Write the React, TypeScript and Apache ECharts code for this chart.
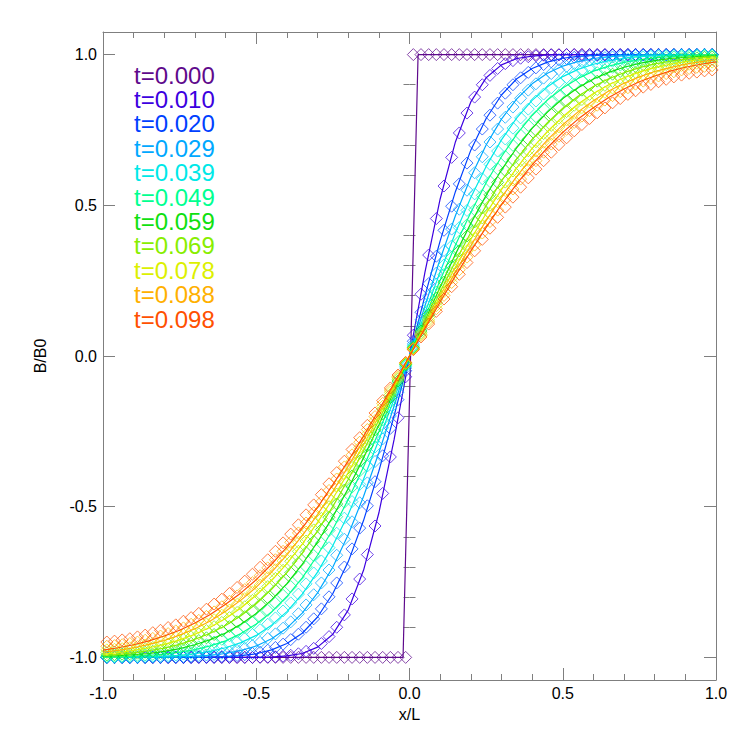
import React, { useEffect, useRef } from "react";
import * as echarts from "echarts";

const timeLabels = ["t=0.000", "t=0.010", "t=0.020", "t=0.029", "t=0.039", "t=0.049", "t=0.059", "t=0.069", "t=0.078", "t=0.088", "t=0.098"];
const colors = ["#5f0a8c", "#3c00e0", "#0040ff", "#00a8ff", "#00e8e8", "#00ff90", "#10e010", "#88ee00", "#dcf000", "#ffb000", "#ff5000"];

const xMajor = [-1, -0.5, 0, 0.5, 1];
const yMajor = [-1, -0.5, 0, 0.5, 1];
const yMinor = [-0.9, -0.8, -0.7, -0.6, -0.4, -0.3, -0.2, -0.1, 0.1, 0.2, 0.3, 0.4, 0.6, 0.7, 0.8, 0.9];

const markerX = [-0.9875,-0.9625,-0.9375,-0.9125,-0.8875,-0.8625,-0.8375,-0.8125,-0.7875,-0.7625,-0.7375,-0.7125,-0.6875,-0.6625,-0.6375,-0.6125,-0.5875,-0.5625,-0.5375,-0.5125,-0.4875,-0.4625,-0.4375,-0.4125,-0.3875,-0.3625,-0.3375,-0.3125,-0.2875,-0.2625,-0.2375,-0.2125,-0.1875,-0.1625,-0.1375,-0.1125,-0.0875,-0.0625,-0.0375,-0.0125,
0.0125,0.0375,0.0625,0.0875,0.1125,0.1375,0.1625,0.1875,0.2125,0.2375,0.2625,0.2875,0.3125,0.3375,0.3625,0.3875,0.4125,0.4375,0.4625,0.4875,0.5125,0.5375,0.5625,0.5875,0.6125,0.6375,0.6625,0.6875,0.7125,0.7375,0.7625,0.7875,0.8125,0.8375,0.8625,0.8875,0.9125,0.9375,0.9625,0.9875];

const lineX = [-1,-0.95,-0.9,-0.85,-0.8,-0.75,-0.7,-0.65,-0.6,-0.55,-0.5,-0.45,-0.4,-0.35,-0.3,-0.25,-0.2,-0.15,-0.1,-0.05,0,0.05,0.1,0.15,0.2,0.25,0.3,0.35,0.4,0.45,0.5,0.55,0.6,0.65,0.7,0.75,0.8,0.85,0.9,0.95,1];

const stepLineX = [-1, -0.021, 0.028, 1];
const stepLineY = [-1, -1, 1, 1];

// marker values (numerical solution)
const m000 = [-1,-1,-1,-1,-1,-1,-1,-1,-1,-1,-1,-1,-1,-1,-1,-1,-1,-1,-1,-1,-1,-1,-1,-1,-1,-1,-1,-1,-1,-1,-1,-1,-1,-1,-1,-1,-1,-1,-1,-1,
1,1,1,1,1,1,1,1,1,1,1,1,1,1,1,1,1,1,1,1,1,1,1,1,1,1,1,1,1,1,1,1,1,1,1,1,1,1,1,1];
const m010 = [-1,-1,-1,-1,-1,-1,-1,-1,-1,-1,-1,-1,-1,-1,-1,-1,-1,-1,-1,-1,-0.999,-0.999,-0.998,-0.996,-0.993,-0.988,-0.980,-0.970,-0.954,-0.931,-0.900,-0.859,-0.806,-0.740,-0.659,-0.564,-0.456,-0.335,-0.205,-0.069,
0.069,0.205,0.335,0.456,0.564,0.659,0.740,0.806,0.859,0.900,0.931,0.954,0.970,0.980,0.988,0.993,0.996,0.998,0.999,0.999,1,1,1,1,1,1,1,1,1,1,1,1,1,1,1,1,1,1,1,1];
const m020 = [-1,-1,-1,-1,-1,-1,-1,-1,-1,-1,-1,-1,-0.999,-0.999,-0.998,-0.997,-0.996,-0.994,-0.991,-0.987,-0.983,-0.976,-0.967,-0.956,-0.941,-0.923,-0.900,-0.872,-0.839,-0.799,-0.753,-0.700,-0.640,-0.571,-0.497,-0.417,-0.331,-0.240,-0.145,-0.049,
0.049,0.145,0.240,0.331,0.417,0.497,0.571,0.640,0.700,0.753,0.799,0.839,0.872,0.900,0.923,0.941,0.956,0.967,0.976,0.983,0.987,0.991,0.994,0.996,0.997,0.998,0.999,0.999,1,1,1,1,1,1,1,1,1,1,1,1];
const m029 = [-1,-1,-1,-1,-1,-1,-0.999,-0.999,-0.998,-0.998,-0.997,-0.996,-0.994,-0.992,-0.990,-0.986,-0.982,-0.977,-0.970,-0.961,-0.950,-0.937,-0.922,-0.903,-0.882,-0.855,-0.826,-0.792,-0.753,-0.710,-0.661,-0.608,-0.550,-0.487,-0.421,-0.350,-0.275,-0.199,-0.120,-0.040,
0.040,0.120,0.199,0.275,0.350,0.421,0.487,0.550,0.608,0.661,0.710,0.753,0.792,0.826,0.855,0.882,0.903,0.922,0.937,0.950,0.961,0.970,0.977,0.982,0.986,0.990,0.992,0.994,0.996,0.997,0.998,0.998,0.999,0.999,1,1,1,1,1,1];
const m039 = [-0.999,-0.999,-0.999,-0.998,-0.998,-0.997,-0.996,-0.995,-0.994,-0.992,-0.989,-0.986,-0.982,-0.978,-0.972,-0.966,-0.958,-0.948,-0.937,-0.924,-0.908,-0.890,-0.869,-0.846,-0.819,-0.790,-0.756,-0.720,-0.680,-0.636,-0.588,-0.538,-0.483,-0.426,-0.365,-0.302,-0.238,-0.171,-0.104,-0.034,
0.034,0.104,0.171,0.238,0.302,0.365,0.426,0.483,0.538,0.588,0.636,0.680,0.720,0.756,0.790,0.819,0.846,0.869,0.890,0.908,0.924,0.937,0.948,0.958,0.966,0.972,0.978,0.982,0.986,0.989,0.992,0.994,0.995,0.996,0.997,0.998,0.998,0.999,0.999,0.999];
const m049 = [-0.997,-0.996,-0.995,-0.994,-0.993,-0.992,-0.990,-0.987,-0.984,-0.981,-0.976,-0.971,-0.965,-0.958,-0.949,-0.940,-0.928,-0.915,-0.901,-0.884,-0.865,-0.844,-0.820,-0.794,-0.765,-0.733,-0.699,-0.662,-0.621,-0.579,-0.533,-0.485,-0.435,-0.381,-0.327,-0.270,-0.212,-0.153,-0.091,-0.030,
0.030,0.091,0.153,0.212,0.270,0.327,0.381,0.435,0.485,0.533,0.579,0.621,0.662,0.699,0.733,0.765,0.794,0.820,0.844,0.865,0.884,0.901,0.915,0.928,0.940,0.949,0.958,0.965,0.971,0.976,0.981,0.984,0.987,0.990,0.992,0.993,0.994,0.995,0.996,0.997];
const m059 = [-0.992,-0.991,-0.989,-0.988,-0.986,-0.983,-0.980,-0.976,-0.972,-0.966,-0.960,-0.953,-0.944,-0.935,-0.924,-0.912,-0.898,-0.882,-0.865,-0.846,-0.825,-0.802,-0.777,-0.749,-0.719,-0.687,-0.652,-0.615,-0.576,-0.535,-0.491,-0.445,-0.398,-0.349,-0.298,-0.245,-0.192,-0.138,-0.083,-0.028,
0.028,0.083,0.138,0.192,0.245,0.298,0.349,0.398,0.445,0.491,0.535,0.576,0.615,0.652,0.687,0.719,0.749,0.777,0.802,0.825,0.846,0.865,0.882,0.898,0.912,0.924,0.935,0.944,0.953,0.960,0.966,0.972,0.976,0.980,0.983,0.986,0.988,0.989,0.991,0.992];
const m069 = [-0.984,-0.982,-0.981,-0.978,-0.975,-0.971,-0.967,-0.962,-0.956,-0.949,-0.941,-0.932,-0.922,-0.911,-0.898,-0.884,-0.868,-0.851,-0.832,-0.811,-0.789,-0.765,-0.738,-0.711,-0.681,-0.648,-0.614,-0.577,-0.539,-0.500,-0.458,-0.415,-0.370,-0.323,-0.276,-0.227,-0.178,-0.128,-0.077,-0.026,
0.026,0.077,0.128,0.178,0.227,0.276,0.323,0.370,0.415,0.458,0.500,0.539,0.577,0.614,0.648,0.681,0.711,0.738,0.765,0.789,0.811,0.832,0.851,0.868,0.884,0.898,0.911,0.922,0.932,0.941,0.949,0.956,0.962,0.967,0.971,0.975,0.978,0.981,0.982,0.984];
const m078 = [-0.975,-0.973,-0.971,-0.968,-0.964,-0.959,-0.954,-0.948,-0.941,-0.933,-0.924,-0.913,-0.901,-0.889,-0.875,-0.860,-0.843,-0.824,-0.805,-0.783,-0.760,-0.735,-0.709,-0.680,-0.649,-0.618,-0.584,-0.549,-0.512,-0.473,-0.433,-0.391,-0.349,-0.304,-0.259,-0.214,-0.167,-0.120,-0.072,-0.024,
0.024,0.072,0.120,0.167,0.214,0.259,0.304,0.349,0.391,0.433,0.473,0.512,0.549,0.584,0.618,0.649,0.680,0.709,0.735,0.760,0.783,0.805,0.824,0.843,0.860,0.875,0.889,0.901,0.913,0.924,0.933,0.941,0.948,0.954,0.959,0.964,0.968,0.971,0.973,0.975];
const m088 = [-0.963,-0.961,-0.958,-0.954,-0.949,-0.943,-0.937,-0.929,-0.921,-0.912,-0.902,-0.890,-0.877,-0.864,-0.849,-0.832,-0.814,-0.796,-0.775,-0.752,-0.729,-0.703,-0.676,-0.648,-0.618,-0.587,-0.554,-0.520,-0.484,-0.446,-0.408,-0.368,-0.328,-0.286,-0.244,-0.201,-0.157,-0.113,-0.068,-0.023,
0.023,0.068,0.113,0.157,0.201,0.244,0.286,0.328,0.368,0.408,0.446,0.484,0.520,0.554,0.587,0.618,0.648,0.676,0.703,0.729,0.752,0.775,0.796,0.814,0.832,0.849,0.864,0.877,0.890,0.902,0.912,0.921,0.929,0.937,0.943,0.949,0.954,0.958,0.961,0.963];
const m098 = [-0.949,-0.946,-0.942,-0.938,-0.932,-0.926,-0.918,-0.910,-0.901,-0.892,-0.880,-0.868,-0.854,-0.840,-0.823,-0.807,-0.788,-0.768,-0.747,-0.724,-0.701,-0.676,-0.648,-0.620,-0.591,-0.560,-0.527,-0.494,-0.460,-0.424,-0.387,-0.349,-0.310,-0.271,-0.230,-0.189,-0.148,-0.106,-0.063,-0.021,
0.021,0.063,0.106,0.148,0.189,0.230,0.271,0.310,0.349,0.387,0.424,0.460,0.494,0.527,0.560,0.591,0.620,0.648,0.676,0.701,0.724,0.747,0.768,0.788,0.807,0.823,0.840,0.854,0.868,0.880,0.892,0.901,0.910,0.918,0.926,0.932,0.938,0.942,0.946,0.949];

// line values (analytic solution)
const l010 = [-1,-1,-1,-1,-1,-1,-1,-1,-1,-1,-1,-0.999,-0.995,-0.987,-0.966,-0.923,-0.843,-0.711,-0.521,-0.276,0,0.276,0.521,0.711,0.843,0.923,0.966,0.987,0.995,0.999,1,1,1,1,1,1,1,1,1,1,1];
const l020 = [-1,-1,-1,-1,-1,-1,-1,-0.999,-0.997,-0.994,-0.988,-0.975,-0.954,-0.920,-0.866,-0.788,-0.683,-0.546,-0.382,-0.198,0,0.198,0.382,0.546,0.683,0.788,0.866,0.920,0.954,0.975,0.988,0.994,0.997,0.999,1,1,1,1,1,1,1];
const l029 = [-1,-1,-1,-1,-0.999,-0.998,-0.996,-0.993,-0.987,-0.977,-0.962,-0.938,-0.903,-0.853,-0.786,-0.700,-0.593,-0.466,-0.321,-0.165,0,0.165,0.321,0.466,0.593,0.700,0.786,0.853,0.903,0.938,0.962,0.977,0.987,0.993,0.996,0.998,0.999,1,1,1,1];
const l039 = [-1,-0.999,-0.999,-0.998,-0.996,-0.993,-0.988,-0.980,-0.968,-0.951,-0.927,-0.893,-0.848,-0.790,-0.717,-0.629,-0.526,-0.409,-0.279,-0.142,0,0.142,0.279,0.409,0.526,0.629,0.717,0.790,0.848,0.893,0.927,0.951,0.968,0.980,0.988,0.993,0.996,0.998,0.999,0.999,1];
const l049 = [-0.999,-0.998,-0.996,-0.993,-0.989,-0.983,-0.974,-0.962,-0.945,-0.921,-0.889,-0.849,-0.798,-0.736,-0.661,-0.575,-0.476,-0.368,-0.251,-0.127,0,0.127,0.251,0.368,0.476,0.575,0.661,0.736,0.798,0.849,0.889,0.921,0.945,0.962,0.974,0.983,0.989,0.993,0.996,0.998,0.999];
const l059 = [-0.996,-0.994,-0.991,-0.987,-0.980,-0.971,-0.958,-0.941,-0.919,-0.890,-0.854,-0.809,-0.755,-0.691,-0.617,-0.533,-0.440,-0.338,-0.229,-0.116,0,0.116,0.229,0.338,0.440,0.533,0.617,0.691,0.755,0.809,0.854,0.890,0.919,0.941,0.958,0.971,0.980,0.987,0.991,0.994,0.996];
const l069 = [-0.993,-0.990,-0.985,-0.978,-0.969,-0.957,-0.940,-0.920,-0.894,-0.862,-0.822,-0.774,-0.719,-0.654,-0.580,-0.499,-0.410,-0.314,-0.212,-0.107,0,0.107,0.212,0.314,0.410,0.499,0.580,0.654,0.719,0.774,0.822,0.862,0.894,0.920,0.940,0.957,0.969,0.978,0.985,0.990,0.993];
const l078 = [-0.989,-0.984,-0.977,-0.968,-0.957,-0.942,-0.923,-0.900,-0.871,-0.836,-0.794,-0.745,-0.689,-0.624,-0.552,-0.473,-0.387,-0.295,-0.200,-0.100,0,0.100,0.200,0.295,0.387,0.473,0.552,0.624,0.689,0.745,0.794,0.836,0.871,0.900,0.923,0.942,0.957,0.968,0.977,0.984,0.989];
const l088 = [-0.983,-0.977,-0.968,-0.957,-0.944,-0.926,-0.905,-0.879,-0.847,-0.810,-0.767,-0.717,-0.660,-0.596,-0.526,-0.449,-0.366,-0.279,-0.189,-0.095,0,0.095,0.189,0.279,0.366,0.449,0.526,0.596,0.660,0.717,0.767,0.810,0.847,0.879,0.905,0.926,0.944,0.957,0.968,0.977,0.983];
const l098 = [-0.976,-0.968,-0.958,-0.945,-0.929,-0.910,-0.886,-0.858,-0.824,-0.786,-0.742,-0.691,-0.634,-0.571,-0.502,-0.427,-0.348,-0.266,-0.179,-0.090,0,0.090,0.179,0.266,0.348,0.427,0.502,0.571,0.634,0.691,0.742,0.786,0.824,0.858,0.886,0.910,0.929,0.945,0.958,0.968,0.976];

const markerSets = [m000, m010, m020, m029, m039, m049, m059, m069, m078, m088, m098];
const lineSets = [null, l010, l020, l029, l039, l049, l059, l069, l078, l088, l098];

const FONT = '"Liberation Sans", Arial, Helvetica, sans-serif';
const AXIS_GRAY = "#7f7f7f";

export default function App() {
  const ref = useRef<HTMLDivElement>(null);

  useEffect(() => {
    if (!ref.current) return;
    const chart = echarts.init(ref.current, null, { renderer: "svg" });

    const fmt = (v: number) => v.toFixed(1);
    const yMin = -1.075;
    const yMax = 1.075;

    const series: any[] = [];
    markerSets.forEach((vals, i) => {
      const c = colors[i];
      const lv = lineSets[i];
      const lineData = lv
        ? lineX.map((x, k) => [x, lv[k]])
        : stepLineX.map((x, k) => [x, stepLineY[k]]);
      series.push({
        type: "line",
        name: timeLabels[i],
        xAxisIndex: 0,
        yAxisIndex: 0,
        data: lineData,
        showSymbol: false,
        symbol: "none",
        lineStyle: { color: c, width: 1.2 },
        silent: true,
        z: 2 + i * 2,
      });
      series.push({
        type: "scatter",
        name: timeLabels[i] + " pts",
        xAxisIndex: 0,
        yAxisIndex: 0,
        data: markerX.map((x, k) => [x, vals[k]]),
        symbol: "diamond",
        symbolSize: [12, 12],
        itemStyle: { color: "rgba(0,0,0,0)", borderColor: c, borderWidth: 1, opacity: 0.75 },
        silent: true,
        z: 3 + i * 2,
      });
    });

    const gridPos = { left: 103, right: 31, top: 32, bottom: 67 };

    chart.setOption({
      animation: false,
      backgroundColor: "#ffffff",
      textStyle: { fontFamily: FONT },
      grid: [gridPos, gridPos],
      xAxis: [
        {
          type: "value", gridIndex: 0, position: "bottom", min: -1, max: 1, interval: 0.5,
          axisLine: { show: true, onZero: false, lineStyle: { color: AXIS_GRAY, width: 1 } },
          axisTick: { show: true, inside: true, length: 12, lineStyle: { color: AXIS_GRAY } },
          minorTick: { show: true, splitNumber: 5, length: 6, lineStyle: { color: AXIS_GRAY } },
          axisLabel: { color: "#000", fontSize: 16, fontFamily: FONT, margin: 5, formatter: fmt, customValues: xMajor },
          splitLine: { show: false },
          name: "x/L", nameLocation: "middle", nameGap: 26,
          nameTextStyle: { color: "#000", fontSize: 16, fontFamily: FONT },
        },
        {
          type: "value", gridIndex: 0, position: "top", min: -1, max: 1, interval: 0.5,
          axisLine: { show: true, onZero: false, lineStyle: { color: AXIS_GRAY, width: 1 } },
          axisTick: { show: true, inside: true, length: 12, lineStyle: { color: AXIS_GRAY } },
          minorTick: { show: true, splitNumber: 5, length: 6, lineStyle: { color: AXIS_GRAY } },
          axisLabel: { show: false },
          splitLine: { show: false },
        },
        { type: "value", gridIndex: 1, position: "bottom", min: -1, max: 1, show: false },
        { type: "value", gridIndex: 1, position: "top", min: -1, max: 1, show: false },
      ],
      yAxis: [
        {
          type: "value", gridIndex: 0, position: "left", min: yMin, max: yMax,
          axisLine: { show: true, onZero: false, lineStyle: { color: AXIS_GRAY, width: 1 } },
          axisTick: { show: true, inside: true, length: 12, customValues: yMajor, lineStyle: { color: AXIS_GRAY } },
          axisLabel: { color: "#000", fontSize: 16, fontFamily: FONT, margin: 6, formatter: fmt, customValues: yMajor },
          splitLine: { show: false },
          name: "B/B0", nameLocation: "middle", nameGap: 55, nameRotate: 90,
          nameTextStyle: { color: "#000", fontSize: 16, fontFamily: FONT },
        },
        {
          type: "value", gridIndex: 0, position: "right", min: yMin, max: yMax,
          axisLine: { show: true, onZero: false, lineStyle: { color: AXIS_GRAY, width: 1 } },
          axisTick: { show: true, inside: true, length: 12, customValues: yMajor, lineStyle: { color: AXIS_GRAY } },
          axisLabel: { show: false },
          splitLine: { show: false },
        },
        {
          type: "value", gridIndex: 1, position: "left", min: yMin, max: yMax,
          axisLine: { show: false },
          axisTick: { show: true, inside: true, length: 6, customValues: yMinor, lineStyle: { color: AXIS_GRAY } },
          axisLabel: { show: false },
          splitLine: { show: false },
        },
        {
          type: "value", gridIndex: 1, position: "right", min: yMin, max: yMax,
          axisLine: { show: false },
          axisTick: { show: true, inside: true, length: 6, customValues: yMinor, lineStyle: { color: AXIS_GRAY } },
          axisLabel: { show: false },
          splitLine: { show: false },
        },
      ],
      graphic: timeLabels.map((t, i) => ({
        type: "text",
        x: 134,
        y: 75 + i * 24.4,
        silent: true,
        style: {
          text: t,
          fill: colors[i],
          font: `24px ${FONT}`,
          verticalAlign: "middle",
          textVerticalAlign: "middle",
        },
      })),
      series,
    });

    return () => chart.dispose();
  }, []);

  return (
    <div
      ref={ref}
      style={{ position: "fixed", left: 0, top: 0, width: 747, height: 747, background: "#fff" }}
    />
  );
}
